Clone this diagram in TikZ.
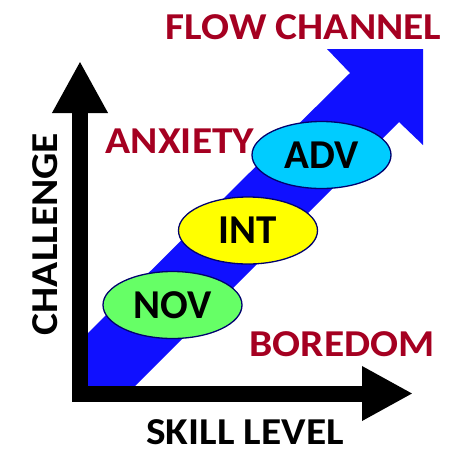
\documentclass[tikz,border=0pt]{standalone}
\usepackage{fontspec}
\setmainfont{Carlito}
\newfontfamily\widesans[FakeStretch=1.09]{Carlito}
\usetikzlibrary{arrows.meta,shapes.geometric}
\definecolor{flowred}{RGB}{165,0,33}
\definecolor{flowblue}{RGB}{16,16,255}
\definecolor{novgreen}{RGB}{102,255,102}
\definecolor{intyellow}{RGB}{255,255,0}
\definecolor{advcyan}{RGB}{0,204,255}
\definecolor{rimnavy}{RGB}{0,0,110}
\tikzset{
  zone/.style={text=flowred, font=\widesans\bfseries\fontsize{38}{38}\selectfont, inner sep=0pt},
  axislabel/.style={text=black, font=\widesans\bfseries\fontsize{38}{38}\selectfont, inner sep=0pt},
  level/.style={ellipse, draw=rimnavy, line width=1.3pt, minimum width=139pt,
    minimum height=67pt, inner sep=0pt, font=\bfseries\fontsize{41}{41}\selectfont},
  axis/.style={line width=16pt, line join=miter,
    {Triangle[length=52pt,width=52pt]}-{Triangle[length=51pt,width=51pt]}}
}
\begin{document}
\begin{tikzpicture}[x=1pt,y=-1pt]
\useasboundingbox (0,0) rectangle (460,448);

% diagonal flow channel arrow
\fill[flowblue] (86,335) -- (350,73) -- (327,49) -- (423,49) -- (423,145)
  -- (399,122) -- (133,388) -- (86,388) -- cycle;

% axes
\coordinate (ytip) at (80,61);
\coordinate (corner) at (80,393.5);
\coordinate (xtip) at (413,393.5);
\draw[axis] (ytip) -- (corner) -- (xtip);

% skill levels
\node[level, fill=novgreen]  (nov) at (172.5,305) {NOV};
\node[level, fill=intyellow] (int) at (248,230.5) {INT};
\node[level, fill=advcyan]   (adv) at (321.5,155) {ADV};

% zone labels
\node[zone] (flow) at (303.5,27) {FLOW CHANNEL};
\node[zone] (anx)  at (180,141) {ANXIETY};
\node[zone] (bore) at (342,344) {BOREDOM};

% axis labels
\node[axislabel] (skill) at (245,432) {SKILL LEVEL};
\node[axislabel, rotate=90] (chal) at (45.5,234) {CHALLENGE};
\end{tikzpicture}
\end{document}
